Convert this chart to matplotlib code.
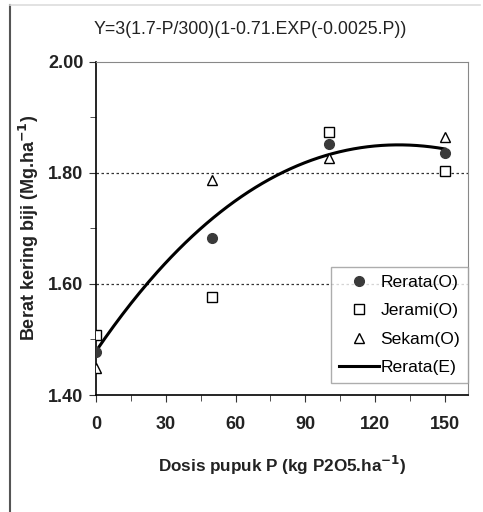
import numpy as np
import matplotlib.pyplot as plt
from matplotlib.lines import Line2D

plt.rcParams['font.family'] = ['Liberation Sans', 'DejaVu Sans']

# Observed grain dry weight (Mg/ha) at each P dose
dosis = [0, 50, 100, 150]
rerata_obs = [1.477, 1.683, 1.852, 1.836]
jerami_obs = [1.508, 1.577, 1.874, 1.804]
sekam_obs = [1.449, 1.787, 1.827, 1.865]

# Fitted model parameters from the equation in the title
a, b, c, d, k = 3, 1.7, 300, 0.71, 0.0025

p = np.linspace(0, 150, 200)
y_fit = a * (b - p / c) * (1 - d * np.exp(-k * p))

fig = plt.figure(figsize=(4.83, 5.12), dpi=100)
ax = fig.add_axes([0.1988, 0.2285, 0.7702, 0.6505])

ax.plot(p, y_fit, color='black', lw=2.2, label='Rerata(E)', zorder=3)
ax.plot(dosis, rerata_obs, 'o', ms=7, color='#3a3a3a', label='Rerata(O)', zorder=4)
ax.plot(dosis, jerami_obs, 's', ms=7, mfc='white', mec='black', mew=1.0,
        label='Jerami(O)', zorder=4)
ax.plot(dosis, sekam_obs, '^', ms=7.5, mfc='white', mec='black', mew=1.0,
        label='Sekam(O)', zorder=4)

for yv in [1.6, 1.8]:
    ax.axhline(yv, color='#333333', lw=0.9, ls=(0, (2, 2)), zorder=1)

ax.set_xlim(0, 160)
ax.set_ylim(1.4, 2.0)
ax.set_xticks([0, 30, 60, 90, 120, 150])
ax.set_xticks(np.arange(0, 160, 15), minor=True)
ax.set_yticks([1.4, 1.6, 1.8, 2.0])
ax.set_yticks([1.5, 1.7, 1.9], minor=True)
ax.set_yticklabels(['1.40', '1.60', '1.80', '2.00'])
ax.tick_params(which='both', direction='out', color='#333333')
ax.tick_params(which='major', length=5, labelsize=13)
ax.tick_params(axis='x', which='major', pad=10)
ax.tick_params(axis='y', which='major', pad=4)
ax.tick_params(which='minor', length=4)
for lbl in ax.get_xticklabels() + ax.get_yticklabels():
    lbl.set_fontweight('bold')
    lbl.set_color('#222222')

ax.spines['left'].set_color('black')
ax.spines['bottom'].set_color('black')
ax.spines['left'].set_linewidth(1.2)
ax.spines['bottom'].set_linewidth(1.2)
ax.spines['top'].set_color('#888888')
ax.spines['right'].set_color('#888888')

ax.set_xlabel(r'Dosis pupuk P (kg P2O5.ha$^{\mathbf{-1}}$)', fontsize=12.3,
              fontweight='bold', color='#222222', labelpad=15)
ax.set_ylabel(r'Berat kering biji (Mg.ha$^{\mathbf{-1}}$)', fontsize=13,
              fontweight='bold', color='#222222', labelpad=5)
fig.text(250 / 483, 1 - 30 / 512, 'Y=3(1.7-P/300)(1-0.71.EXP(-0.0025.P))',
         fontsize=12.8, color='#222222', ha='center', va='center')

handles, labels = ax.get_legend_handles_labels()
order = [1, 2, 3, 0]
leg = ax.legend([handles[i] for i in order], [labels[i] for i in order],
                loc='lower right', bbox_to_anchor=(1.0, 0.036), fontsize=12.6,
                frameon=True, fancybox=False, edgecolor='#999999',
                handlelength=2.3, handletextpad=0.05, borderpad=0.45,
                labelspacing=0.75, borderaxespad=0)
leg.get_frame().set_linewidth(1.0)

# outer frame around the figure
fig.add_artist(Line2D([10 / 483, 10 / 483], [0, 1 - 5 / 512], color='#555555', lw=1.5))
fig.add_artist(Line2D([10 / 483, 480 / 483], [1 - 5 / 512, 1 - 5 / 512], color='#dddddd', lw=1.2))

fig.savefig('out.png', dpi=100)
